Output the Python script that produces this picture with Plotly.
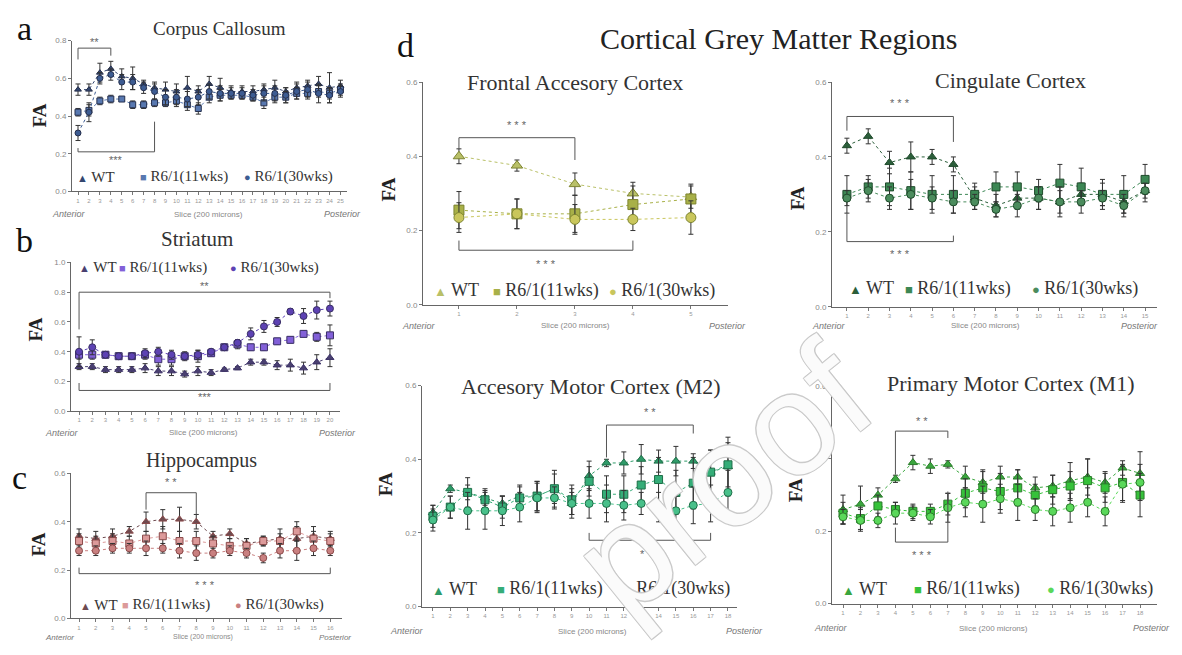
import plotly.graph_objects as go

# The page body has an 8px margin; the figure is sized so it fits the window without scrollbars.
W, H = 1182, 655
OFF = 8
FW, FH = W - 2 * OFF, H - 2 * OFF


def px(x):
    return (x - OFF) / FW


def py(y):
    return 1 - (y - OFF) / FH


# ------------------------------------------------------------------ data
SERIES = ["WT", "R6/1(11wks)", "R6/1(30wks)"]

# a  Corpus Callosum (25 slices)
cc_slices = list(range(1, 26))
cc_wt = [0.54, 0.54, 0.63, 0.65, 0.61, 0.60, 0.57, 0.55, 0.54, 0.53, 0.55, 0.53, 0.57,
         0.55, 0.53, 0.53, 0.53, 0.54, 0.55, 0.53, 0.55, 0.56, 0.57, 0.55, 0.56]
cc_11 = [0.42, 0.43, 0.48, 0.49, 0.49, 0.46, 0.46, 0.47, 0.47, 0.48, 0.46, 0.44, 0.50,
         0.51, 0.51, 0.51, 0.50, 0.47, 0.50, 0.50, 0.52, 0.52, 0.53, 0.52, 0.54]
cc_30 = [0.31, 0.42, 0.60, 0.62, 0.58, 0.58, 0.55, 0.53, 0.50, 0.50, 0.49, 0.50, 0.53,
         0.52, 0.52, 0.52, 0.51, 0.52, 0.52, 0.51, 0.53, 0.54, 0.52, 0.51, 0.53]
cc_wt_err = [0.03, 0.03, 0.05, 0.04, 0.04, 0.06, 0.02, 0.03, 0.04, 0.04, 0.06, 0.03, 0.04,
             0.05, 0.03, 0.03, 0.03, 0.03, 0.04, 0.02, 0.03, 0.03, 0.04, 0.08, 0.03]
cc_11_err = [0.02, 0.03, 0.02, 0.02, 0.01, 0.02, 0.02, 0.02, 0.02, 0.03, 0.03, 0.03, 0.03,
             0.03, 0.02, 0.02, 0.02, 0.03, 0.03, 0.03, 0.03, 0.03, 0.03, 0.03, 0.03]
cc_30_err = [0.04, 0.05, 0.03, 0.03, 0.04, 0.04, 0.03, 0.04, 0.04, 0.04, 0.04, 0.04, 0.04,
             0.04, 0.03, 0.03, 0.03, 0.04, 0.04, 0.04, 0.04, 0.04, 0.05, 0.04, 0.03]

# b  Striatum (20 slices)
st_slices = list(range(1, 21))
st_wt = [0.30, 0.30, 0.28, 0.28, 0.28, 0.29, 0.27, 0.27, 0.25, 0.27,
         0.26, 0.28, 0.29, 0.33, 0.33, 0.31, 0.31, 0.29, 0.33, 0.36]
st_11 = [0.38, 0.38, 0.38, 0.37, 0.37, 0.38, 0.35, 0.35, 0.37, 0.37,
         0.39, 0.43, 0.45, 0.43, 0.43, 0.47, 0.48, 0.52, 0.50, 0.51]
st_30 = [0.40, 0.43, 0.38, 0.37, 0.37, 0.39, 0.40, 0.38, 0.37, 0.38,
         0.40, 0.43, 0.46, 0.52, 0.57, 0.60, 0.67, 0.64, 0.68, 0.69]
st_wt_err = [0.02, 0.02, 0.02, 0.02, 0.02, 0.03, 0.03, 0.03, 0.02, 0.03,
             0.02, 0.01, 0.01, 0.02, 0.02, 0.03, 0.04, 0.04, 0.05, 0.06]
st_11_err = [0.03, 0.03, 0.02, 0.02, 0.02, 0.03, 0.04, 0.04, 0.03, 0.04,
             0.02, 0.02, 0.03, 0.02, 0.02, 0.02, 0.02, 0.02, 0.03, 0.07]
st_30_err = [0.10, 0.05, 0.02, 0.02, 0.02, 0.03, 0.03, 0.03, 0.02, 0.03,
             0.02, 0.02, 0.02, 0.04, 0.04, 0.03, 0.02, 0.05, 0.06, 0.05]

# c  Hippocampus (16 slices)
hc_slices = list(range(1, 17))
hc_wt = [0.34, 0.33, 0.34, 0.36, 0.40, 0.41, 0.41, 0.40,
         0.34, 0.35, 0.31, 0.32, 0.33, 0.33, 0.34, 0.33]
hc_11 = [0.32, 0.31, 0.32, 0.31, 0.33, 0.34, 0.32, 0.32,
         0.31, 0.30, 0.30, 0.32, 0.32, 0.36, 0.33, 0.32]
hc_30 = [0.28, 0.28, 0.29, 0.29, 0.29, 0.29, 0.28, 0.27,
         0.27, 0.28, 0.27, 0.25, 0.28, 0.28, 0.29, 0.28]
hc_wt_err = [0.03, 0.03, 0.03, 0.02, 0.04, 0.04, 0.05, 0.03,
             0.02, 0.02, 0.02, 0.02, 0.04, 0.05, 0.04, 0.03]
hc_11_err = [0.03, 0.03, 0.03, 0.03, 0.03, 0.04, 0.04, 0.04,
             0.03, 0.03, 0.03, 0.02, 0.03, 0.04, 0.03, 0.03]
hc_30_err = [0.02, 0.02, 0.02, 0.02, 0.03, 0.02, 0.03, 0.03,
             0.02, 0.02, 0.02, 0.02, 0.03, 0.04, 0.03, 0.02]

# d1  Frontal Accesory Cortex (5 slices)
fr_slices = list(range(1, 6))
fr_wt = [0.40, 0.375, 0.325, 0.30, 0.29]
fr_11 = [0.255, 0.245, 0.245, 0.27, 0.285]
fr_30 = [0.235, 0.245, 0.23, 0.23, 0.235]
fr_wt_err = [0.02, 0.015, 0.03, 0.03, 0.03]
fr_11_err = [0.05, 0.04, 0.05, 0.05, 0.04]
fr_30_err = [0.04, 0.04, 0.04, 0.03, 0.045]

# d2  Cingulate Cortex (15 slices)
cg_slices = list(range(1, 16))
cg_wt = [0.43, 0.455, 0.385, 0.40, 0.40, 0.38, 0.29, 0.27, 0.29, 0.29, 0.28, 0.30, 0.30, 0.28, 0.31]
cg_11 = [0.30, 0.32, 0.32, 0.31, 0.30, 0.30, 0.30, 0.32, 0.32, 0.31, 0.33, 0.32, 0.30, 0.30, 0.34]
cg_30 = [0.29, 0.31, 0.29, 0.30, 0.29, 0.28, 0.28, 0.26, 0.27, 0.29, 0.28, 0.28, 0.29, 0.27, 0.31]
cg_wt_err = [0.02, 0.02, 0.03, 0.04, 0.02, 0.02, 0.03, 0.03, 0.03, 0.03, 0.03, 0.03, 0.03, 0.03, 0.03]
cg_11_err = [0.05, 0.03, 0.05, 0.05, 0.05, 0.05, 0.03, 0.04, 0.04, 0.03, 0.05, 0.05, 0.04, 0.05, 0.04]
cg_30_err = [0.02, 0.03, 0.03, 0.04, 0.03, 0.03, 0.02, 0.02, 0.03, 0.03, 0.04, 0.03, 0.02, 0.03, 0.02]

# d3  Accesory Motor Cortex (M2) (18 slices)
m2_slices = list(range(1, 19))
m2_wt = [0.255, 0.32, 0.31, 0.295, 0.28, 0.30, 0.30, 0.32, 0.28,
         0.355, 0.39, 0.39, 0.40, 0.395, 0.395, 0.395, 0.365, 0.38]
m2_11 = [0.245, 0.27, 0.31, 0.29, 0.27, 0.295, 0.30, 0.32, 0.29,
         0.34, 0.305, 0.305, 0.33, 0.345, 0.31, 0.335, 0.365, 0.385]
m2_30 = [0.235, 0.27, 0.26, 0.26, 0.26, 0.27, 0.295, 0.295, 0.28,
         0.28, 0.28, 0.275, 0.28, 0.27, 0.26, 0.275, 0.28, 0.31]
m2_wt_err = [0.02, 0.01, 0.02, 0.02, 0.02, 0.03, 0.04, 0.05, 0.03,
             0.04, 0.01, 0.03, 0.04, 0.03, 0.04, 0.02, 0.06, 0.08]
m2_11_err = [0.03, 0.03, 0.04, 0.03, 0.03, 0.03, 0.04, 0.04, 0.04,
             0.04, 0.05, 0.05, 0.05, 0.06, 0.06, 0.07, 0.06, 0.06]
m2_30_err = [0.03, 0.03, 0.05, 0.05, 0.04, 0.04, 0.04, 0.03, 0.04,
             0.04, 0.05, 0.04, 0.03, 0.04, 0.04, 0.05, 0.05, 0.06]

# d4  Primary Motor Cortex (M1) (18 slices)
m1_slices = list(range(1, 19))
m1_wt = [0.26, 0.275, 0.30, 0.345, 0.39, 0.38, 0.385, 0.35, 0.335,
         0.35, 0.35, 0.32, 0.325, 0.34, 0.35, 0.335, 0.375, 0.36]
m1_11 = [0.25, 0.235, 0.27, 0.26, 0.255, 0.255, 0.275, 0.305, 0.32,
         0.31, 0.32, 0.30, 0.315, 0.325, 0.34, 0.32, 0.335, 0.30]
m1_30 = [0.24, 0.23, 0.23, 0.25, 0.25, 0.24, 0.265, 0.28, 0.275,
         0.29, 0.28, 0.26, 0.255, 0.265, 0.28, 0.255, 0.33, 0.335]
m1_wt_err = [0.04, 0.05, 0.02, 0.01, 0.02, 0.02, 0.01, 0.03, 0.03,
             0.03, 0.02, 0.03, 0.03, 0.05, 0.05, 0.03, 0.02, 0.06]
m1_11_err = [0.03, 0.03, 0.03, 0.02, 0.02, 0.02, 0.03, 0.04, 0.05,
             0.05, 0.05, 0.03, 0.04, 0.04, 0.06, 0.04, 0.05, 0.06]
m1_30_err = [0.02, 0.03, 0.02, 0.03, 0.02, 0.02, 0.04, 0.04, 0.05,
             0.04, 0.05, 0.03, 0.04, 0.04, 0.04, 0.04, 0.05, 0.05]

# significance brackets: (x_left, x_right, bar level, left end, right end, label, label level)
cc_brackets = [(1, 4, 0.76, 0.70, 0.72, "**", 0.79), (1, 8, 0.21, 0.23, 0.37, "***", 0.165)]
st_brackets = [(1, 20, 0.80, 0.55, 0.76, "**", 0.845), (1, 20, 0.14, 0.19, 0.19, "***", 0.095)]
hc_brackets = [(5, 8, 0.52, 0.45, 0.43, "* *", 0.565), (1, 16, 0.185, 0.21, 0.21, "* * *", 0.14)]
fr_brackets = [(1, 3, 0.45, 0.42, 0.39, "* * *", 0.485), (1, 4, 0.147, 0.173, 0.173, "* * *", 0.11)]
cg_brackets = [(1, 6, 0.508, 0.47, 0.44, "* * *", 0.545), (1, 6, 0.174, 0.25, 0.19, "* * *", 0.142)]
m2_brackets = [(11, 16, 0.493, 0.405, 0.47, "* *", 0.528), (10, 17, 0.18, 0.20, 0.20, "* * *", 0.143)]
m1_brackets = [(4, 7, 0.477, 0.357, 0.458, "* *", 0.505), (4, 7, 0.17, 0.21, 0.31, "* * *", 0.135)]

# ------------------------------------------------------------------ layout of panels
SERIF = "Liberation Serif, Times New Roman, serif"
SANS = "Liberation Sans, Arial, sans-serif"
SYMS = ["triangle-up", "square", "circle"]
GLYPHS = ["▲", "■", "●"]

panels = [
    dict(slices=cc_slices, vals=[cc_wt, cc_11, cc_30], errs=[cc_wt_err, cc_11_err, cc_30_err],
         br=cc_brackets, xpx=(72, 347), xr=(0.45, 25.6), ypx=(190, 37), ytop=0.8,
         colors=["#33466f", "#5878b0", "#3d5c92"], edge="#26304d", msize=6,
         title="Corpus Callosum", tpos=(219, 25), tsize=19,
         fa=(40, 113), axrow=(213, 50, 208, 363), arsize=9,
         leg=(175, [80, 143, 247]), lsize=15, lsym=11),
    dict(slices=st_slices, vals=[st_wt, st_11, st_30], errs=[st_wt_err, st_11_err, st_30_err],
         br=st_brackets, xpx=(71, 340), xr=(0.39, 20.76), ypx=(413, 262), ytop=1.0,
         colors=["#4a4070", "#8260d8", "#5d42b3"], edge="#3a2f66", msize=7,
         title="Striatum", tpos=(197, 238), tsize=21,
         fa=(35, 330), axrow=(435, 43, 203, 358), arsize=9,
         leg=(267, [82, 122, 233]), lsize=15, lsym=11),
    dict(slices=hc_slices, vals=[hc_wt, hc_11, hc_30], errs=[hc_wt_err, hc_11_err, hc_30_err],
         br=hc_brackets, xpx=(71, 342), xr=(0.52, 16.7), ypx=(623, 476), ytop=0.6,
         colors=["#6e4b50", "#dc9a9a", "#c98080"], edge="#8a4a4a", msize=7,
         title="Hippocampus", tpos=(201, 463), tsize=20,
         fa=(38, 548), axrow=(642, 43, 203, 353), arsize=8,
         leg=(609, [83, 125, 238]), lsize=15, lsym=11),
    dict(slices=fr_slices, vals=[fr_wt, fr_11, fr_30], errs=[fr_wt_err, fr_11_err, fr_30_err],
         br=fr_brackets, xpx=(423, 728), xr=(0.38, 5.64), ypx=(305, 79), ytop=0.6,
         colors=["#b9c068", "#a8b048", "#c9c65c"], edge="#7d8430", msize=10,
         title="Frontal Accesory Cortex", tpos=(575, 80), tsize=22,
         fa=(388, 188), axrow=(326, 400, 575, 748), arsize=9,
         leg=(290, [437, 496, 612]), lsize=18, lsym=13),
    dict(slices=cg_slices, vals=[cg_wt, cg_11, cg_30], errs=[cg_wt_err, cg_11_err, cg_30_err],
         br=cg_brackets, xpx=(832, 1157), xr=(0.30, 15.56), ypx=(307, 79), ytop=0.6,
         colors=["#2b5e3a", "#3c8754", "#4b8c5d"], edge="#1f4a2b", msize=8,
         title="Cingulate Cortex", tpos=(1010, 77), tsize=22,
         fa=(797, 197), axrow=(326, 810, 985, 1160), arsize=9,
         leg=(288, [852, 908, 1035]), lsize=18, lsym=13),
    dict(slices=m2_slices, vals=[m2_wt, m2_11, m2_30], errs=[m2_wt_err, m2_11_err, m2_30_err],
         br=m2_brackets, xpx=(422, 737), xr=(0.37, 18.52), ypx=(611, 387), ytop=0.6,
         colors=["#2e9a68", "#35ad78", "#48c08a"], edge="#1f6e48", msize=8,
         title="Accesory Motor Cortex (M2)", tpos=(591, 388), tsize=22,
         fa=(385, 487), axrow=(636, 388, 592, 765), arsize=9,
         leg=(593, [435, 500, 627]), lsize=18, lsym=13),
    dict(slices=m1_slices, vals=[m1_wt, m1_11, m1_30], errs=[m1_wt_err, m1_11_err, m1_30_err],
         br=m1_brackets, xpx=(832, 1157), xr=(0.37, 18.97), ypx=(608, 388), ytop=0.6,
         colors=["#3aa63e", "#36c23a", "#5ad85a"], edge="#2a7a2a", msize=8,
         title="Primary Motor Cortex (M1)", tpos=(1010, 385), tsize=22,
         fa=(795, 493), axrow=(633, 812, 993, 1172), arsize=9,
         leg=(593, [845, 917, 1050]), lsize=18, lsym=13),
]


def note(text, x, y, size, family=SERIF, color="#333", xanchor="center", angle=0, **kw):
    return dict(text=text, x=px(x), y=py(y), xref="paper", yref="paper", showarrow=False,
                xanchor=xanchor, yanchor="middle", textangle=angle,
                font=dict(family=family, size=size, color=color, **kw))


fig = go.Figure()
annotations = []
shapes = []
layout_axes = {}

for i, p in enumerate(panels, start=1):
    xa = "x" if i == 1 else f"x{i}"
    ya = "y" if i == 1 else f"y{i}"
    xk = "xaxis" if i == 1 else f"xaxis{i}"
    yk = "yaxis" if i == 1 else f"yaxis{i}"
    for s in range(3):
        fig.add_trace(go.Scatter(
            x=p["slices"], y=p["vals"][s], name=SERIES[s], xaxis=xa, yaxis=ya,
            mode="lines+markers", showlegend=False,
            line=dict(color=p["colors"][s], width=1, dash="dot"),
            marker=dict(symbol=SYMS[s], size=p["msize"], color=p["colors"][s],
                        line=dict(color=p["edge"], width=1)),
            error_y=dict(type="data", array=p["errs"][s], color="#333333",
                         thickness=1, width=2.5),
        ))
    nt = int(round(p["ytop"] / 0.2))
    yvals = [round(0.2 * k, 1) for k in range(nt + 1)]
    layout_axes[xk] = dict(
        domain=[px(p["xpx"][0]), px(p["xpx"][1])], anchor=ya, range=list(p["xr"]),
        showline=True, linecolor="#666", linewidth=1, ticks="outside", ticklen=3,
        tickcolor="#777", tickvals=p["slices"], ticktext=[str(v) for v in p["slices"]],
        tickfont=dict(family=SANS, size=6, color="#999"), showgrid=False, zeroline=False,
        fixedrange=True,
    )
    layout_axes[yk] = dict(
        domain=[py(p["ypx"][0]), py(p["ypx"][1])], anchor=xa, range=[0, p["ytop"]],
        showline=True, linecolor="#666", linewidth=1, ticks="outside", ticklen=3,
        tickcolor="#777", tickvals=yvals, ticktext=[f"{v:.1f}" for v in yvals],
        tickfont=dict(family=SANS, size=8, color="#888"), showgrid=False, zeroline=False,
        fixedrange=True,
    )
    annotations.append(note(p["title"], p["tpos"][0], p["tpos"][1], p["tsize"]))
    annotations.append(note("<b>FA</b>", p["fa"][0], p["fa"][1], 19, color="#222", angle=-90))
    ry, ax_l, sc_c, po_r = p["axrow"]
    annotations.append(note("<i>Anterior</i>", ax_l, ry, p["arsize"], family=SANS, color="#777", xanchor="left"))
    annotations.append(note("Slice (200 microns)", sc_c, ry, p["arsize"] - 1, family=SANS, color="#888"))
    annotations.append(note("<i>Posterior</i>", po_r, ry, p["arsize"], family=SANS, color="#777", xanchor="right"))
    ly, lxs = p["leg"]
    for s in range(3):
        annotations.append(note(
            f"<span style='color:{p['colors'][s]};font-size:{p['lsym']}px'>{GLYPHS[s]}</span> {SERIES[s]}",
            lxs[s] - 5, ly, p["lsize"], xanchor="left"))
    for (x1, x2, yb, y1, y2, lab, ly2) in p["br"]:
        shapes.append(dict(type="path", xref=xa, yref=ya,
                           path=f"M {x1},{y1} L {x1},{yb} L {x2},{yb} L {x2},{y2}",
                           line=dict(color="#555", width=1)))
        annotations.append(dict(text=lab, x=(x1 + x2) / 2, y=ly2, xref=xa, yref=ya,
                                showarrow=False, xanchor="center", yanchor="middle",
                                font=dict(family=SANS, size=11, color="#666")))

# panel letters and main heading
for lab, (lx, lyy) in {"a": (24, 25), "b": (24, 240), "c": (19, 480), "d": (405, 42)}.items():
    annotations.append(note(lab, lx, lyy, 34, color="#111"))
annotations.append(note("Cortical Grey Matter Regions", 778, 35, 30, color="#222"))

# watermark
annotations.append(note("proof", 722, 482, 145, family=SANS, color="rgba(255,255,255,0.92)",
                        angle=-39,
                        shadow="1px 1px 0 #c8c8c8, -1px -1px 0 #c8c8c8, 1px -1px 0 #c8c8c8, -1px 1px 0 #c8c8c8"))

fig.update_layout(
    width=FW, height=FH, margin=dict(l=0, r=0, t=0, b=0),
    paper_bgcolor="white", plot_bgcolor="white",
    showlegend=False, annotations=annotations, shapes=shapes,
    **layout_axes,
)

fig.write_html("out.html")
